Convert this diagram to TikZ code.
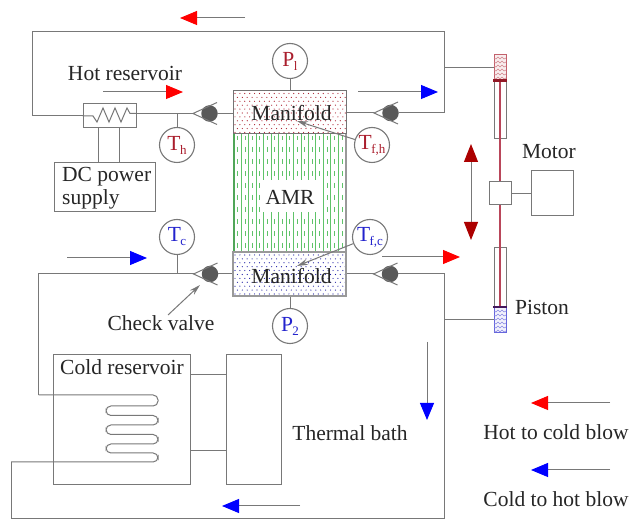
\documentclass[tikz,border=0pt]{standalone}
\usepackage{fontspec}
\setmainfont{Liberation Serif}
\usetikzlibrary{arrows.meta}
\definecolor{pipec}{gray}{0.47}
\definecolor{hotc}{RGB}{170,30,45}
\definecolor{coldc}{RGB}{35,35,205}
\definecolor{amrg}{RGB}{95,195,105}
\definecolor{rodc}{RGB}{185,70,90}
\newcommand{\lab}{\fontsize{21.5}{24}\selectfont}
\newcommand{\gsub}[2]{\lab #1\kern-0.5pt\raisebox{-4pt}{\fontsize{13}{13}\selectfont #2}}
\tikzset{
 x=1pt,y=-1pt,
 pipe/.style={draw=pipec,line width=1pt},
 box/.style={draw=pipec,line width=1pt,inner sep=0pt,fill=none},
 gauge/.style={circle,draw=pipec,line width=1.1pt,minimum size=35pt,inner sep=0pt,fill=white},
 txt/.style={inner sep=0pt,font=\lab,text=black!85},
 ball/.style={circle,fill=black!65,minimum size=16.5pt,inner sep=0pt},
 hothead/.style={pipe,-{Triangle[length=17pt,width=14pt,color=red]}},
 coldhead/.style={pipe,-{Triangle[length=17pt,width=14pt,color=blue]}},
 dirhead/.style={pipe,-{Triangle[length=18pt,width=14pt,color=black!10!red!75!black]}},
 pointer/.style={draw=pipec,line width=1pt,-{Stealth[length=11pt,width=6pt,color=pipec]}},
 valveedge/.style={draw=pipec,line width=1pt},
}
\newcommand{\valve}[3]{% name, ball x, y
 \node[ball] (#1) at (#2,#3) {};
 \coordinate (#1t) at (#2-16.5,#3);
 \coordinate (#1a) at (#2+7.5,#3-11);
 \coordinate (#1b) at (#2+7.5,#3+11);
 \draw[valveedge] (#1a) -- (#1t) -- (#1b);
}
\begin{document}
\begin{tikzpicture}
\useasboundingbox[fill=white] (0,0) rectangle (630,521);

% manifold dots
\foreach \r in {0,...,10}{
  \pgfmathtruncatemacro{\off}{mod(\r,2)}
  \foreach \c in {0,...,22}{
    \fill[hotc] (235+\c*4.9+\off*2.4,93.5+\r*3.9) circle (0.6);
  }
}
\foreach \r in {0,...,10}{
  \pgfmathtruncatemacro{\off}{mod(\r,2)}
  \foreach \c in {0,...,22}{
    \fill[coldc!80!black] (235+\c*4.9+\off*2.4,255+\r*3.9) circle (0.6);
  }
}
% AMR hatch
\foreach \i in {0,...,15}{
  \draw[amrg,line width=1pt] (233.8+\i*7.47,134) -- (233.8+\i*7.47,252);
}
\foreach \i in {0,...,14}{
  \draw[amrg,line width=.9pt,dash pattern=on 5pt off 7pt,dash phase=1pt] (237.5+\i*7.47,136) -- (237.5+\i*7.47,252);
}
\fill[white] (262,180) rectangle (320,212);
\draw[amrg!85!black,line width=1.8pt] (233.8,134) -- (233.8,252);

% boxes
\node[box,minimum width=113pt,minimum height=43pt,line width=1pt,draw=black!55] (mh) at (289.5,112.5) {};
\node[box,minimum width=113pt,minimum height=44pt,line width=1.5pt,draw=black!40] (mc) at (289.5,274) {};
\draw[black!40,line width=1.3pt] (346,134) -- (346,252);
\node[txt] at (291.5,113) {Manifold};
\node[txt] at (291.5,276) {Manifold};
\node[txt] at (290,197) {AMR};

\node[box,minimum width=53pt,minimum height=24pt] (heater) at (109.5,116) {};
\node[box,minimum width=101pt,minimum height=49pt] (dc) at (104.5,187.5) {};
\node[txt,align=left,anchor=north west,font=\fontsize{21.5}{23}\selectfont] at (62,167) {DC power\\supply};
\node[box,minimum width=137pt,minimum height=130pt] (cold) at (121.5,420) {};
\node[box,minimum width=55pt,minimum height=130pt] (bath) at (253.5,420) {};
\node[box,minimum width=22pt,minimum height=23pt] (drive) at (500,193.5) {};
\node[box,minimum width=42pt,minimum height=45pt] (motor) at (552,193.5) {};

% heater zigzag
\coordinate (hl) at (heater.west |- 0,116);
\coordinate (hr) at (heater.east |- 0,113.5);
\draw[pipe] (hl) -- (93,116) -- (97,122) -- (103,108) -- (109,122) -- (115,108) -- (121,122) -- (127,108) -- (130,113.5) -- (hr);

% valves
\valve{vhl}{209.5}{113.5}
\valve{vhr}{390.5}{113}
\valve{vcl}{210}{274}
\valve{vcr}{390}{274}

% gauges
\node[gauge,text=hotc] (p1) at (290,61) {\gsub{P}{l}};
\node[gauge,text=coldc] (p2) at (290,326) {\gsub{P}{2}};
\node[gauge,text=hotc] (th) at (177,145) {\gsub{T}{h}};
\node[gauge,text=coldc] (tc) at (177,237) {\gsub{T}{c}};
\node[gauge,text=hotc] (tfh) at (372,145) {\gsub{T}{f,h}};
\node[gauge,text=coldc] (tfc) at (370,237) {\gsub{T}{f,c}};

% pipes
\coordinate (ntl) at (32,32);
\coordinate (ntr) at (444.5,32);
\coordinate (nhr) at (444.5,113);
\coordinate (ncr) at (444.5,274);
\coordinate (nbr) at (444.5,519);
\coordinate (nbl) at (11,519);
\coordinate (ncl) at (38.5,274);
\draw[pipe] (hl) -- (32,116) -- (ntl) -- (ntr) -- (nhr) -- (vhr);
\draw[pipe] (mh.east |- vhr) -- (vhrt);
\draw[pipe] (hr) -- (vhlt);
\draw[pipe] (vhl) -- (mh.west |- vhl);
\draw[pipe] (vcl) -- (mc.west |- vcl);
\draw[pipe] (mc.east |- vcr) -- (vcrt);
\draw[pipe] (vcr) -- (ncr) -- (nbr) -- (nbl) -- (11,462);
\draw[pipe] (vclt) -- (ncl) -- (38.5,395);
\draw[pipe,rounded corners=4.9pt] (38.5,395) -- (158,395) -- (158,406) -- (106,406) -- (106,415.5) -- (158,415.5) -- (158,425) -- (106,425) -- (106,434.5) -- (158,434.5) -- (158,444) -- (106,444) -- (106,453) -- (158,453) -- (158,462) -- (11,462);

\draw[pipe] (98,128) -- (98,163);
\draw[pipe] (119,128) -- (119,163);
\draw[pipe] (cold.east |- 0,375) -- (bath.west |- 0,375);
\draw[pipe] (cold.east |- 0,451) -- (bath.west |- 0,451);
\draw[pipe] (drive.east) -- (motor.west);

% gauge stems
\draw[pipe] (p1) -- (p1 |- mh.north);
\draw[pipe] (p2) -- (p2 |- mc.south);
\draw[pipe] (th) -- (th |- vhl);
\draw[pipe] (tc) -- (tc |- vcl);
\draw[pointer] (tfh) -- (297,121);
\draw[pointer] (tfc) -- (297,266);

% pistons
\node[inner sep=0pt,minimum width=12pt,minimum height=26pt,fill=hotc!8,draw=hotc!70,line width=.7pt] (ph) at (500,67) {};
\node[inner sep=0pt,minimum width=12pt,minimum height=25pt,fill=coldc!6,draw=coldc!70,line width=.7pt] (pc) at (500,319.5) {};
\foreach \y in {58,62,...,78}{
  \draw[hotc!55!white,line width=.6pt] (494,\y) -- (496,\y+1) -- (498,\y-1) -- (500,\y+1) -- (502,\y-1) -- (504,\y+1) -- (506,\y);
}
\foreach \y in {311,315,...,331}{
  \draw[coldc!55!white,line width=.6pt] (494,\y) -- (496,\y+1) -- (498,\y-1) -- (500,\y+1) -- (502,\y-1) -- (504,\y+1) -- (506,\y);
}
\node[box,minimum width=12pt,minimum height=59pt] (cylh) at (500,109.5) {};
\node[box,minimum width=12pt,minimum height=59pt] (cylc) at (500,277.5) {};
\draw[rodc,line width=1.2pt] (500,80) -- (drive.north);
\draw[rodc,line width=1.2pt] (drive.south) -- (500,307);
\draw[hotc!85!black,line width=3pt] (493,80.5) -- (507,80.5);
\draw[coldc!55!hotc!70!black,line width=2.4pt] (493,307) -- (507,307);
\draw[pipe] (444.5,68) -- (ph.west |- 0,68);
\draw[pipe] (444.5,320) -- (pc.west |- 0,320);

% flow arrows
\draw[hothead] (245,18) -- (180,18);
\draw[hothead] (103,92) -- (183,92);
\draw[coldhead] (358,92) -- (438,92);
\draw[hothead] (382,257) -- (460,257);
\draw[coldhead] (67,258) -- (147,258);
\draw[coldhead] (427,342) -- (427,420);
\draw[coldhead] (300,506) -- (222,506);
\draw[hothead] (610,403) -- (531,403);
\draw[coldhead] (610,470) -- (531,470);
\coordinate (dmid) at (471,192);
\draw[dirhead] (dmid) -- (471,144);
\draw[dirhead] (dmid) -- (471,240);
\draw[pointer] (168,315) -- (200,285);

% labels
\node[txt] at (125,73) {Hot reservoir};
\node[txt] at (549,152) {Motor};
\node[txt] at (542,307) {Piston};
\node[txt] at (161,323) {Check valve};
\node[txt] at (122,367) {Cold reservoir};
\node[txt] at (350,433) {Thermal bath};
\node[txt] at (556,432) {Hot to cold blow};
\node[txt] at (556,499) {Cold to hot blow};
\end{tikzpicture}
\end{document}
